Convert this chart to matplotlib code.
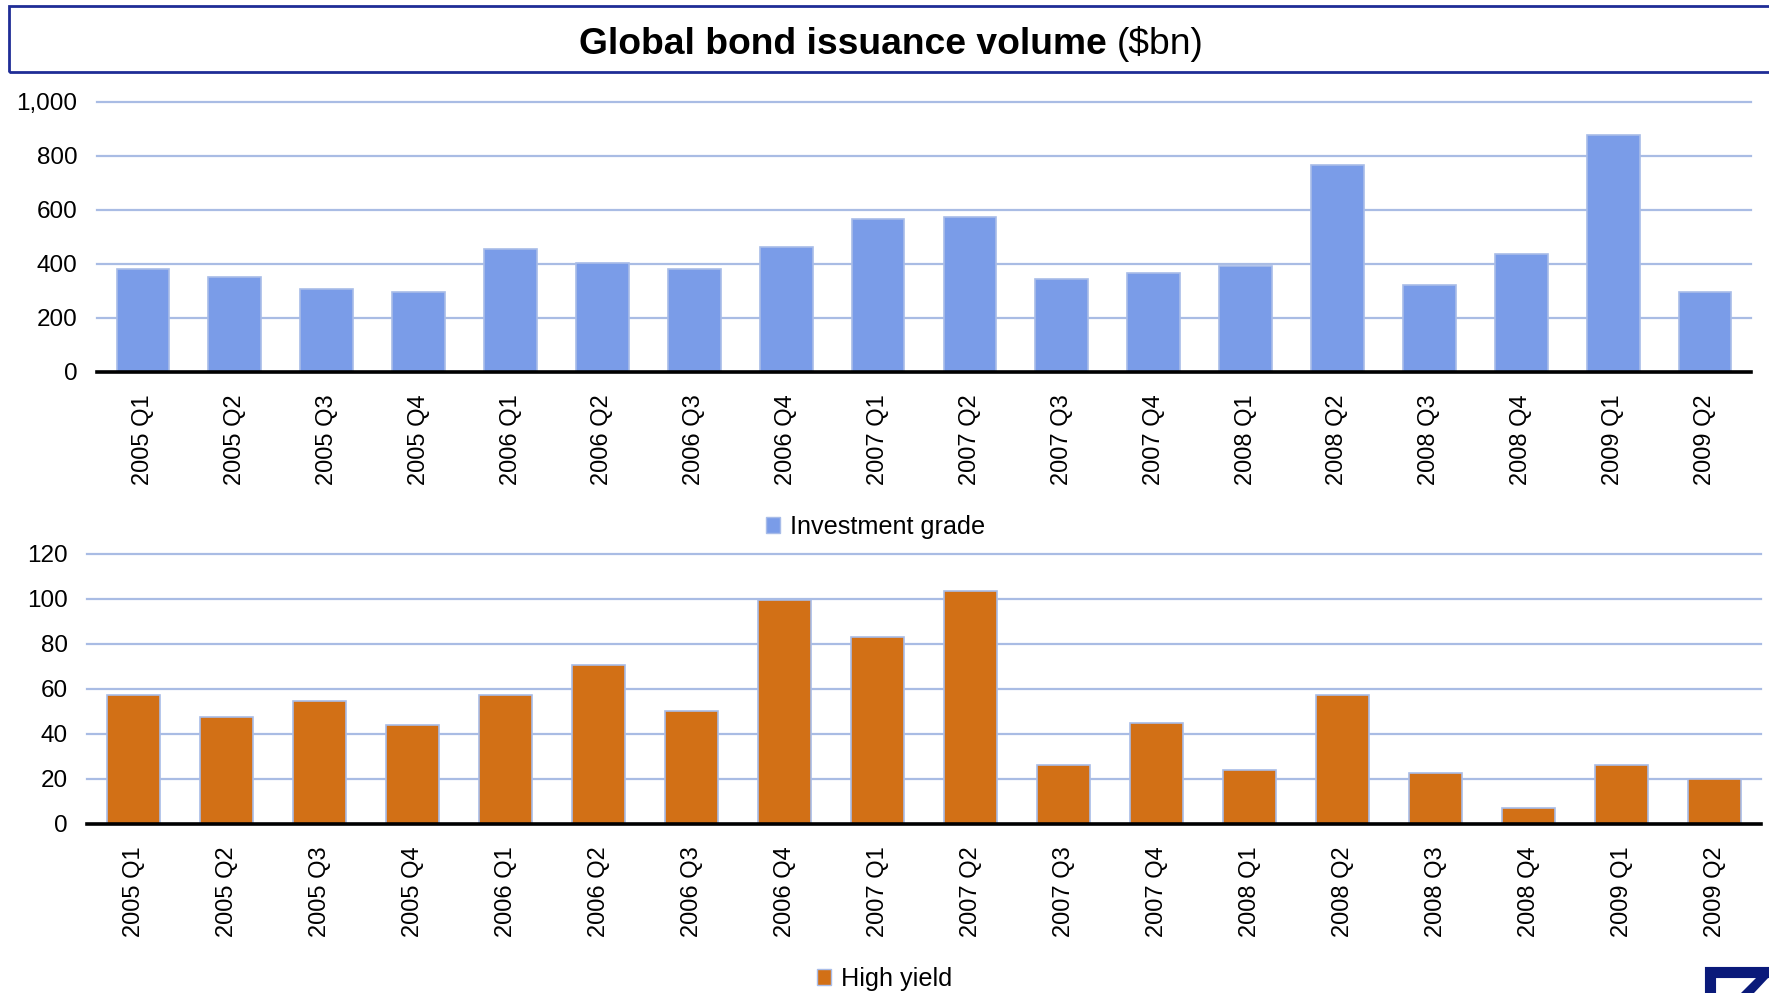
import matplotlib
matplotlib.use("Agg")
import matplotlib.pyplot as plt
from matplotlib.patches import Rectangle, Patch, Polygon

plt.rcParams['font.family'] = ['Liberation Sans', 'DejaVu Sans']

quarters = ["2005 Q1", "2005 Q2", "2005 Q3", "2005 Q4",
            "2006 Q1", "2006 Q2", "2006 Q3", "2006 Q4",
            "2007 Q1", "2007 Q2", "2007 Q3", "2007 Q4",
            "2008 Q1", "2008 Q2", "2008 Q3", "2008 Q4",
            "2009 Q1", "2009 Q2"]
investment_grade = [382, 353, 308, 295, 456, 404, 382, 464, 566, 575,
                    345, 367, 392, 766, 323, 435, 877, 295]
high_yield = [57.4, 47.6, 54.7, 44.1, 57.4, 70.6, 50.3, 99.6, 82.9, 103.3,
              26.3, 45.0, 23.8, 57.4, 22.8, 7.0, 26.3, 20.0]

ig_ticks = [0, 200, 400, 600, 800, 1000]
hy_ticks = [0, 20, 40, 60, 80, 100, 120]

W, H = 1769, 993
IG_COLOR = "#7A9CE8"
HY_COLOR = "#D27016"
EDGE = "#A8BCE8"
GRID = "#A9BCE4"
NAVY = "#1F2D96"
LOGO = "#0A1A7A"

fig = plt.figure(figsize=(W / 100, H / 100), dpi=100)


def px_axes(left, right, top, bottom):
    return fig.add_axes([left / W, 1 - bottom / H, (right - left) / W, (bottom - top) / H])


def draw_panel(ax, values, color, ticks, fmt):
    x = list(range(len(values)))
    ax.set_axisbelow(True)
    ax.bar(x, values, width=0.575, color=color, edgecolor=EDGE, linewidth=1.2, zorder=2)
    ax.set_xlim(-0.5, len(values) - 0.5)
    ax.set_ylim(ticks[0], ticks[-1])
    ax.set_yticks(ticks)
    ax.set_yticklabels([fmt(t) for t in ticks])
    ax.set_xticks(x)
    ax.set_xticklabels(quarters, rotation=90, va="top", ha="center")
    ax.tick_params(axis="x", length=0, pad=16, labelsize=17)
    ax.tick_params(axis="y", length=0, pad=14, labelsize=17.5)
    ax.yaxis.grid(True, color=GRID, linewidth=1.6)
    for gl in ax.get_ygridlines():
        gl.set_clip_on(False)
    for s in ["left", "right", "top"]:
        ax.spines[s].set_visible(False)
    ax.spines["bottom"].set_color("black")
    ax.spines["bottom"].set_linewidth(2.6)
    ax.spines["bottom"].set_zorder(3)
    ax.set_facecolor("none")


ax_ig = px_axes(97, 1751, 101.7, 372)
draw_panel(ax_ig, investment_grade, IG_COLOR, ig_ticks, lambda t: f"{t:,}")

ax_hy = px_axes(87, 1761, 553.7, 824)
draw_panel(ax_hy, high_yield, HY_COLOR, hy_ticks, lambda t: f"{t}")

# Legends
legend_kw = dict(loc="center", frameon=False, fontsize=18.2,
                 handlelength=0.55, handleheight=0.55, handletextpad=0.4)
fig.legend(handles=[Patch(facecolor=IG_COLOR, edgecolor=EDGE, linewidth=1)],
           labels=["Investment grade"],
           bbox_to_anchor=(876 / W, 1 - 527 / H), **legend_kw)
fig.legend(handles=[Patch(facecolor=HY_COLOR, edgecolor=EDGE, linewidth=1)],
           labels=["High yield"],
           bbox_to_anchor=(885 / W, 1 - 979 / H), **legend_kw)

# Title box
fig.patches.append(Rectangle((9 / W, 1 - 72 / H), (W + 20) / W, 66 / H,
                             transform=fig.transFigure, fill=False,
                             edgecolor=NAVY, linewidth=2))

# Title composed of bold and regular parts, centred as one line
title_y = 1 - 44.5 / H
t1 = fig.text(0, title_y, "Global bond issuance volume ", fontsize=26.8,
              fontweight="bold", ha="left", va="center")
t2 = fig.text(0, title_y, "($bn)", fontsize=26.8, ha="left", va="center")
fig.canvas.draw()
r = fig.canvas.get_renderer()
w1 = t1.get_window_extent(r).width
w2 = t2.get_window_extent(r).width
x0 = 891 - (w1 + w2) / 2
t1.set_x(x0 / W)
t2.set_x((x0 + w1) / W)

# Corner logo
fig.patches.append(Rectangle((1709.5 / W, 1 - 1060 / H), 90 / W, 88.5 / H,
                             transform=fig.transFigure, fill=False,
                             edgecolor=LOGO, linewidth=8))
fig.patches.append(Polygon([(1757 / W, 1 - 977 / H), (1769 / W, 1 - 977 / H),
                            (1754 / W, 0), (1741 / W, 0)],
                           closed=True, transform=fig.transFigure,
                           facecolor=LOGO, edgecolor="none"))

fig.savefig("out.png", dpi=100, facecolor="white")
